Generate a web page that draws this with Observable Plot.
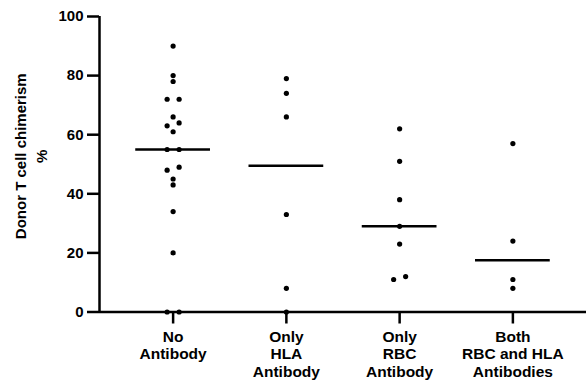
<!DOCTYPE html>
<html><head><meta charset="utf-8">
<script src="https://cdn.jsdelivr.net/npm/d3@7"></script>
<script src="https://cdn.jsdelivr.net/npm/@observablehq/plot@0.6"></script>
<style>html,body{margin:0;padding:0;background:#fff;} svg{display:block}</style>
</head><body><div id="chart"></div>
<script>
const categories = ["No\nAntibody", "Only\nHLA\nAntibody", "Only\nRBC\nAntibody", "Both\nRBC and HLA\nAntibodies"];
const noAntibody = [90, 80, 78, 72, 72, 66, 64, 63, 61, 55, 55, 49, 48, 45, 43, 34, 20, 0, 0];
const onlyHLA = [79, 74, 66, 33, 8, 0];
const onlyRBC = [62, 51, 38, 29, 23, 12, 11];
const bothAntibodies = [57, 24, 11, 8];
const yTicks = [0, 20, 40, 60, 80, 100];
const yLabel = "Donor T cell chimerism\n%";

const groups = [noAntibody, onlyHLA, onlyRBC, bothAntibodies];
const xDomain = [-0.65, 3.65];
const spread = 0.053;   // side-by-side offset for near-equal values
const halfWidth = 0.33; // half length of median line

function slots(values) {
  const sorted = values.map((v, i) => ({v, i})).sort((a, b) => b.v - a.v);
  const s = new Array(values.length).fill(0);
  for (let k = 0; k < sorted.length; k++) {
    if (k + 1 < sorted.length && sorted[k].v - sorted[k + 1].v <= 1) {
      s[sorted[k].i] = 1; s[sorted[k + 1].i] = -1; k++;
    }
  }
  return s;
}

const points = groups.flatMap((vals, g) => {
  const s = slots(vals);
  return vals.map((v, i) => ({group: g, value: v, slot: s[i]}));
});
const medians = groups.map((vals, g) => ({group: g, median: d3.median(vals)}));

const font = "'Liberation Sans', Arial, Helvetica, sans-serif";

const chart = Plot.plot({
  width: 586, height: 386,
  marginLeft: 99, marginRight: 0, marginTop: 16, marginBottom: 74.5,
  x: {domain: xDomain, axis: null},
  y: {domain: [0, 100], axis: null},
  style: {fontFamily: font, fontWeight: "bold", fontSize: "15px", color: "#000", background: "#fff"},
  marks: [
    Plot.axisY({ticks: yTicks, tickSize: 12, tickPadding: 4, strokeWidth: 2.5, fontSize: 15, label: null}),
    Plot.axisX({ticks: categories.map((_, i) => i), tickFormat: i => categories[i], tickSize: 12, tickPadding: 5, strokeWidth: 2.5, fontSize: 15.5, lineHeight: 1.15, label: null}),
    Plot.ruleX([xDomain[0]], {strokeWidth: 2.5}),
    Plot.ruleY([0], {strokeWidth: 2.5}),
    Plot.ruleY(medians, {y: "median", x1: d => d.group - halfWidth, x2: d => d.group + halfWidth, strokeWidth: 2.5}),
    Plot.dot(points, {x: d => d.group + d.slot * spread, y: "value", r: 2.6, fill: "#000"}),
    Plot.text([yLabel], {text: d => d, frameAnchor: "left", textAnchor: "middle", rotate: -90, dx: -70, dy: -8, fontSize: 15, lineHeight: 1.45})
  ]
});
document.getElementById("chart").appendChild(chart);
</script>
</body></html>
